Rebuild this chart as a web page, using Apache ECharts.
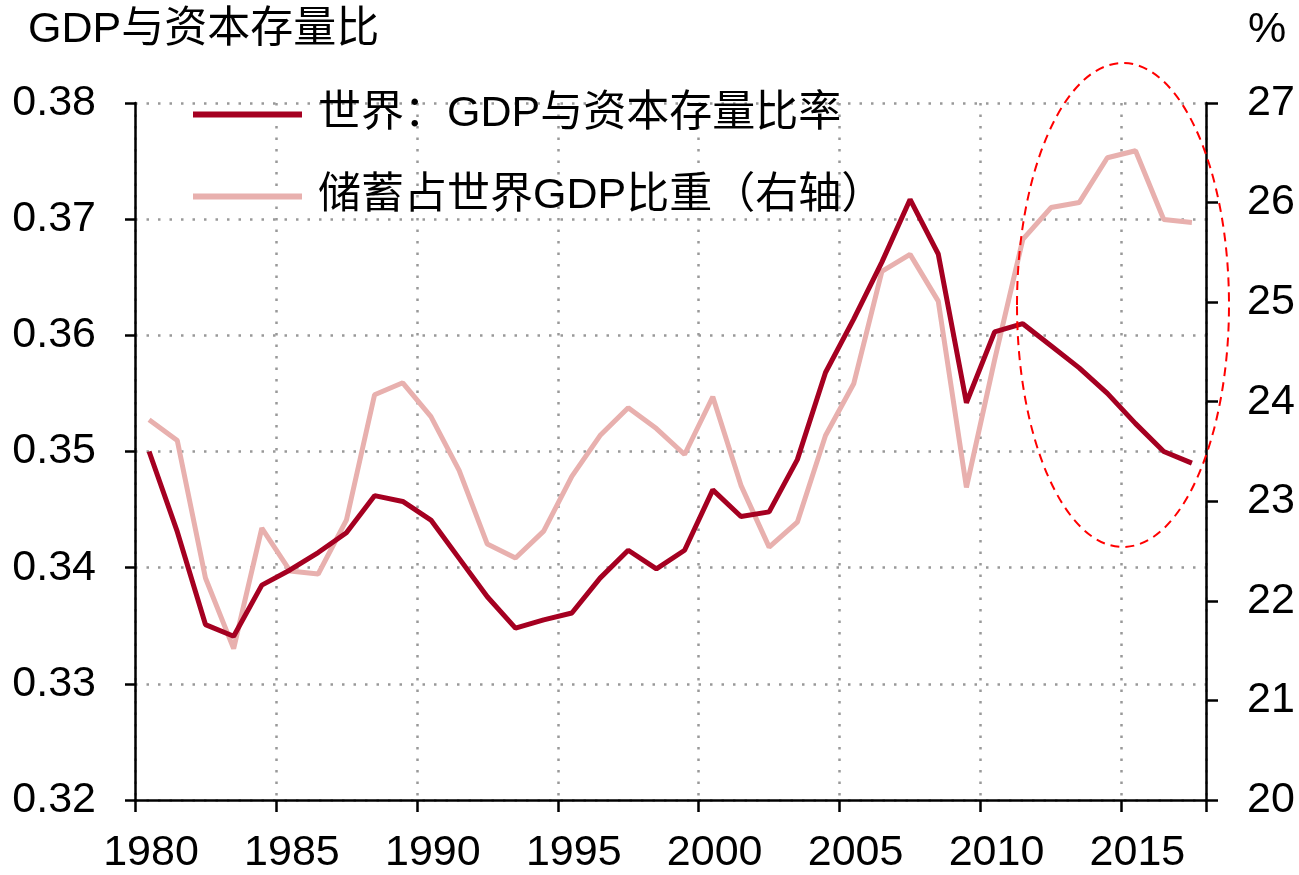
<!DOCTYPE html>
<html>
<head>
<meta charset="utf-8">
<script src="https://cdn.jsdelivr.net/npm/echarts@6/dist/echarts.min.js"></script>
<style>
  html, body { margin: 0; padding: 0; background: #fff; }
  #chart { width: 1299px; height: 875px; }
</style>
</head>
<body>
<div id="chart"></div>
<script>
// Years 1980–2017; each value is plotted at the middle of its year.
const years = [1980,1981,1982,1983,1984,1985,1986,1987,1988,1989,1990,1991,1992,1993,1994,1995,1996,1997,1998,1999,2000,2001,2002,2003,2004,2005,2006,2007,2008,2009,2010,2011,2012,2013,2014,2015,2016,2017];

// World GDP / capital stock ratio (left axis)
const gdpCapitalRatio = [0.3500,0.3431,0.3351,0.3341,0.3385,0.3398,0.3413,0.3430,0.3462,0.3457,0.3441,0.3408,0.3375,0.3348,0.3355,0.3361,0.3391,0.3415,0.3399,0.3415,0.3467,0.3444,0.3448,0.3493,0.3568,0.3614,0.3663,0.3717,0.3670,0.3542,0.3603,0.3610,0.3591,0.3572,0.3550,0.3524,0.3500,0.3490];

// Savings share of world GDP, % (right axis)
const savingsShare = [23.82,23.61,22.23,21.52,22.73,22.30,22.27,22.81,24.07,24.19,23.85,23.31,22.57,22.43,22.70,23.25,23.66,23.94,23.73,23.47,24.05,23.16,22.54,22.79,23.66,24.18,25.31,25.48,25.01,23.14,24.42,25.63,25.95,26.00,26.45,26.52,25.83,25.80];

const seriesNames = ['世界：GDP与资本存量比率', '储蓄占世界GDP比重（右轴）'];
const leftTicks = { min: 0.32, max: 0.38, interval: 0.01 };
const rightTicks = { min: 20, max: 27, interval: 1 };
const xTicks = { min: 1980, max: 2018, interval: 5 };

const FONT = '"Liberation Sans", Arial, "Noto Sans CJK SC", sans-serif';
const FS = 43;
const darkRed = '#A50021';
const pink = '#E8B0AE';

const chart = echarts.init(document.getElementById('chart'), null, { renderer: 'canvas' });

const toPairs = vals => vals.map((v, i) => [years[i] + 0.5, v]);

const dotted = { show: true, lineStyle: { color: '#999', type: [2.5, 9], width: 2.5 } };

chart.setOption({
  animation: false,
  backgroundColor: '#fff',
  grid: { left: 135, right: 93, top: 103, bottom: 72, containLabel: false },
  title: {
    text: 'GDP与资本存量比',
    left: 23, top: 4,
    textStyle: { fontFamily: FONT, fontSize: FS, fontWeight: 'normal', color: '#000', lineHeight: FS }
  },
  legend: {
    orient: 'vertical',
    left: 188, top: 88,
    itemWidth: 109, itemHeight: 6,
    itemGap: 39,
    icon: 'rect',
    textStyle: { fontFamily: FONT, fontSize: FS, lineHeight: FS, color: '#000', padding: [0, 0, 0, 11] },
    data: seriesNames
  },
  xAxis: {
    type: 'value',
    min: xTicks.min, max: xTicks.max, interval: xTicks.interval,
    axisLine: { show: true, onZero: false, lineStyle: { color: '#000', width: 2.5 } },
    axisTick: { show: true, length: 12, lineStyle: { color: '#000', width: 2.5 } },
    axisLabel: {
      fontFamily: FONT, fontSize: FS, color: '#000', margin: 32,
      // year labels sit under the middle of their year
      padding: [0, 0, 0, 32],
      formatter: v => (v % 5 === 0 && v < 2018) ? String(v) : ''
    },
    splitLine: dotted
  },
  yAxis: [
    {
      type: 'value', position: 'left',
      min: leftTicks.min, max: leftTicks.max, interval: leftTicks.interval,
      axisLine: { show: true, lineStyle: { color: '#000', width: 2.5 } },
      axisTick: { show: true, length: 10, lineStyle: { color: '#000', width: 2.5 } },
      axisLabel: {
        fontFamily: FONT, fontSize: FS, color: '#000', margin: 39,
        formatter: v => v.toFixed(2)
      },
      splitLine: dotted
    },
    {
      type: 'value', position: 'right',
      min: rightTicks.min, max: rightTicks.max, interval: rightTicks.interval,
      axisLine: { show: true, lineStyle: { color: '#000', width: 2.5 } },
      axisTick: { show: true, length: 12, lineStyle: { color: '#000', width: 2.5 } },
      axisLabel: { fontFamily: FONT, fontSize: FS, color: '#000', margin: 41 },
      splitLine: { show: false }
    }
  ],
  series: [
    {
      name: seriesNames[1], type: 'line', yAxisIndex: 1,
      data: toPairs(savingsShare),
      showSymbol: false, symbol: 'none',
      lineStyle: { color: pink, width: 5 },
      itemStyle: { color: pink },
      z: 2
    },
    {
      name: seriesNames[0], type: 'line', yAxisIndex: 0,
      data: toPairs(gdpCapitalRatio),
      showSymbol: false, symbol: 'none',
      lineStyle: { color: darkRed, width: 5 },
      itemStyle: { color: darkRed },
      z: 3
    }
  ],
  graphic: [
    {
      type: 'text', left: 1248, top: 9,
      style: { text: '%', fontFamily: FONT, fontSize: FS, fill: '#000' }
    },
    {
      // highlight around the most recent years
      type: 'ellipse', z: 10,
      shape: { cx: 1123, cy: 305, rx: 106, ry: 242 },
      style: { fill: 'none', stroke: '#FF0000', lineWidth: 2, lineDash: [9, 6] }
    }
  ]
});
</script>
</body>
</html>
